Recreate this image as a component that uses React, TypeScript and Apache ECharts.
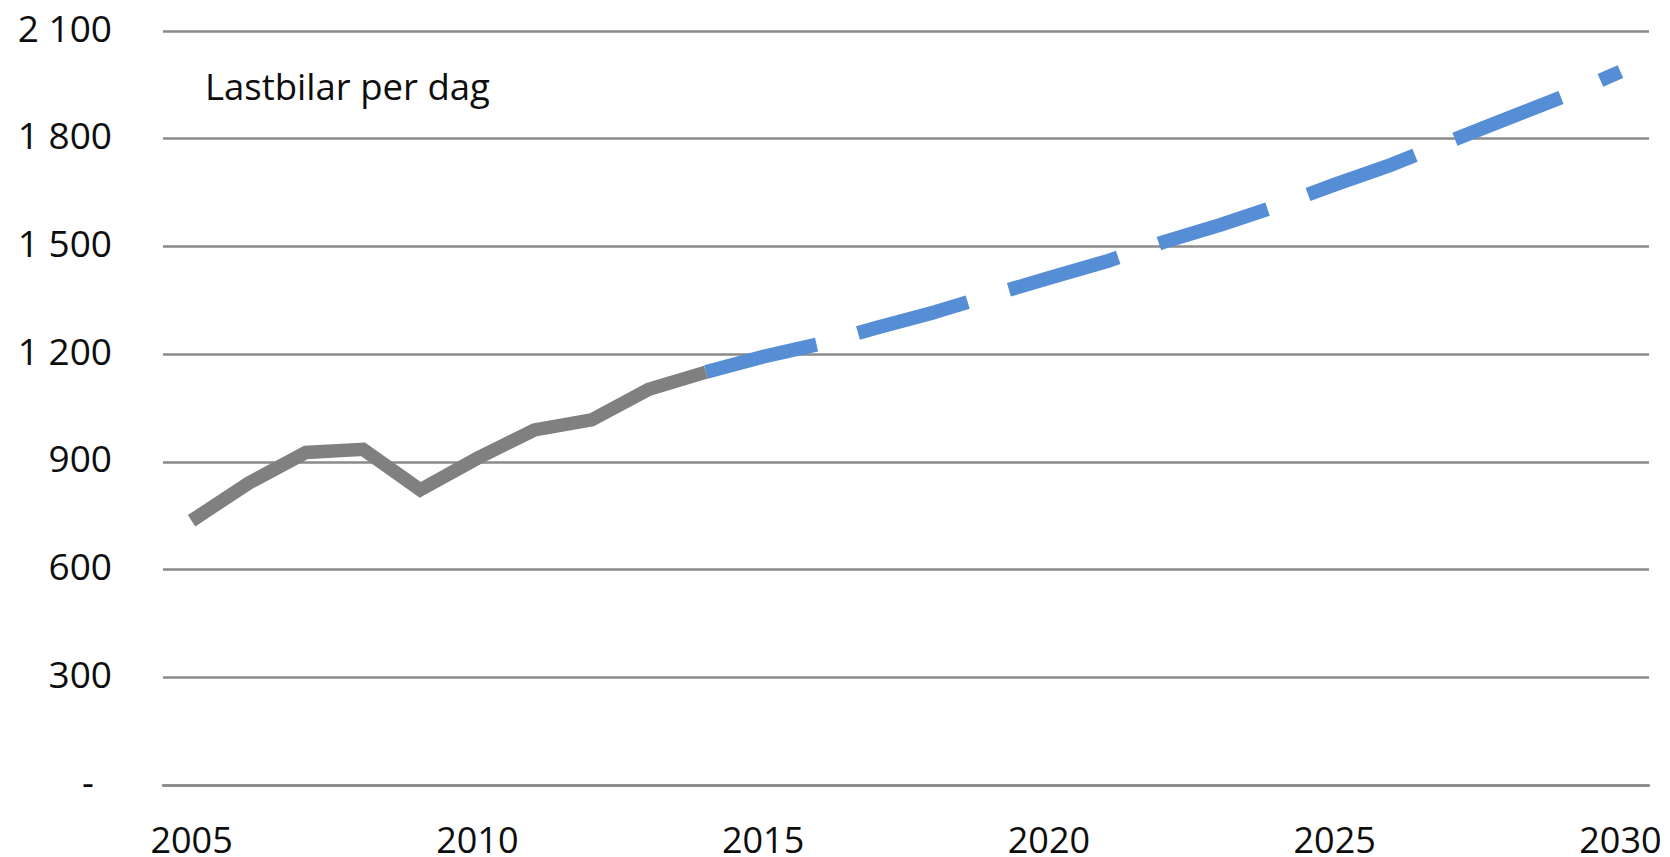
import React, { useEffect, useRef } from "react";
import * as echarts from "echarts";

const years: string[] = [
  "2005", "2006", "2007", "2008", "2009", "2010", "2011", "2012", "2013",
  "2014", "2015", "2016", "2017", "2018", "2019", "2020", "2021", "2022",
  "2023", "2024", "2025", "2026", "2027", "2028", "2029", "2030",
];

// Historical (grey) values 2005–2014
const historical: (number | null)[] = [
  736, 841, 926, 935, 822, 910, 989, 1017, 1102, 1150,
  null, null, null, null, null, null, null, null, null, null, null, null, null, null, null, null,
];

// Forecast (blue dashed) values 2014–2030
const forecast: (number | null)[] = [
  null, null, null, null, null, null, null, null, null,
  1150, 1193, 1229, 1274, 1317, 1365, 1412, 1458, 1512, 1560, 1613, 1672, 1728, 1792, 1855, 1917, 1987,
];

const yTicks = { min: 0, max: 2100, interval: 300 };
const annotation = "Lastbilar per dag";

const FONT = "'Open Sans', Lato, sans-serif";
const TEXT = "#0d0d0d";

function formatY(v: number): string {
  if (v === 0) return "{z|-}";
  const s = String(Math.round(v));
  return s.replace(/\B(?=(\d{3})+(?!\d))/g, " ");
}

export default function App() {
  const ref = useRef<HTMLDivElement>(null);
  useEffect(() => {
    if (!ref.current) return;
    const chart = echarts.init(ref.current, undefined, { renderer: "svg" });
    chart.setOption({
      animation: false,
      backgroundColor: "#ffffff",
      grid: { left: 163, right: 21, top: 31, bottom: 70, containLabel: false },
      xAxis: {
        type: "category",
        data: years,
        boundaryGap: true,
        axisLine: { show: true, lineStyle: { color: "#8a8a8a", width: 2.5 } },
        axisTick: { show: false },
        axisLabel: {
          interval: 4,
          margin: 41,
          lineHeight: 26,
          color: TEXT,
          fontSize: 36,
          fontFamily: FONT,
        },
        splitLine: { show: false },
      },
      yAxis: {
        type: "value",
        min: yTicks.min,
        max: yTicks.max,
        interval: yTicks.interval,
        axisLine: { show: false },
        axisTick: { show: false },
        axisLabel: {
          margin: 51,
          color: TEXT,
          fontSize: 37,
          fontFamily: FONT,
          padding: [0, 0, 8, 0],
          formatter: formatY,
          rich: {
            z: { fontSize: 37, fontFamily: FONT, color: TEXT, padding: [0, 18, 0, 0] },
          },
        },
        splitLine: { show: true, lineStyle: { color: "#8a8a8a", width: 2.5 } },
      },
      graphic: [
        {
          type: "text",
          x: 205,
          y: 86,
          style: {
            text: annotation,
            fontSize: 36.5,
            fontFamily: FONT,
            fill: TEXT,
            verticalAlign: "middle",
          },
        },
      ],
      series: [
        {
          name: "Historik",
          type: "line",
          data: historical,
          symbol: "none",
          connectNulls: false,
          lineStyle: { color: "#808080", width: 13.5, join: "miter" },
          z: 3,
        },
        {
          name: "Prognos",
          type: "line",
          data: forecast,
          symbol: "none",
          connectNulls: false,
          lineStyle: { color: "#558ED5", width: 14, type: [114, 43], cap: "butt" },
          z: 2,
        },
      ],
    });
    return () => chart.dispose();
  }, []);
  return (
    <div
      ref={ref}
      style={{ position: "fixed", left: 0, top: 0, width: 1670, height: 857, background: "#fff" }}
    />
  );
}
